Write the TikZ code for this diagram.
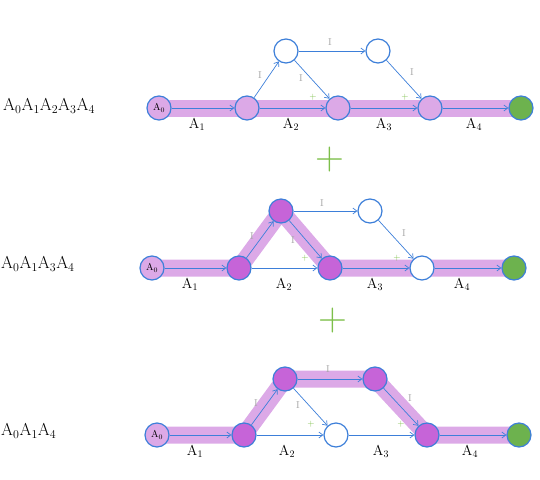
\documentclass[tikz,border=0pt]{standalone}
\usetikzlibrary{arrows.meta}
\definecolor{edgeblue}{HTML}{3D7FD9}
\definecolor{band}{HTML}{DCA9E7}
\definecolor{dark}{HTML}{C664D8}
\definecolor{gnode}{HTML}{6DB24E}
\definecolor{plusg}{HTML}{7DBF4A}
\tikzset{
  x=1pt,y=-1pt,
  vtx/.style={circle,draw=edgeblue,line width=1.2pt,fill=white,minimum size=24pt,inner sep=0pt},
  onband/.style={vtx,fill=band},
  picked/.style={vtx,fill=dark},
  final/.style={vtx,fill=gnode},
  arc/.style={draw=edgeblue,line width=0.7pt,-{Straight Barb[length=4pt,width=6pt]}},
  hl/.style={draw=band,line width=17pt,line join=round},
  ilab/.style={text=gray!70,font=\normalsize},
  alab/.style={font=\Large},
  tick/.style={text=plusg,font=\small},
  rowlab/.style={font=\LARGE,anchor=west,inner sep=1pt},
  bigplus/.style={text=plusg,font=\fontsize{40}{40}\selectfont}
}
\begin{document}
\begin{tikzpicture}
\useasboundingbox (0,0) rectangle (540,479);
% ---------- panel 1 ----------
\node[rowlab] (l1) at (2,106) {A$_0$A$_1$A$_2$A$_3$A$_4$};
\coordinate (p1s) at (152,108);
\coordinate (p1e) at (521,108);
\draw[hl] (p1s) -- (p1e);
\node[onband] (a0) at (159,108) {A$_0$};
\node[onband] (a1) at (247,108) {};
\node[onband] (a2) at (338,108) {};
\node[onband] (a3) at (430,108) {};
\node[final]  (a4) at (521,108) {};
\node[vtx] (b1) at (286,51) {};
\node[vtx] (b2) at (378,51) {};
\draw[arc] (a0) -- (a1);
\draw[arc] (a1) -- (a2);
\draw[arc] (a2) -- (a3);
\draw[arc] (a3) -- (a4);
\draw[arc] (a1) -- (b1);
\draw[arc] (b1) -- (a2);
\draw[arc] (b1) -- (b2);
\draw[arc] (b2) -- (a3);
\node[alab] (ta1) at (197,124) {A$_1$};
\node[alab] (ta2) at (291,124) {A$_2$};
\node[alab] (ta3) at (384,124) {A$_3$};
\node[alab] (ta4) at (474,124) {A$_4$};
\node[ilab] (ti1) at (260,75) {I};
\node[ilab] (ti2) at (301,78) {I};
\node[ilab] (ti3) at (330,42) {I};
\node[ilab] (ti4) at (412,72) {I};
\node[tick] (tk1) at (313,97) {+};
\node[tick] (tk2) at (405,97) {+};
\node[bigplus] (plus1) at (330,160) {+};
% ---------- panel 2 ----------
\node[rowlab] (l2) at (0,264) {A$_0$A$_1$A$_3$A$_4$};
\coordinate (p2s) at (145,268);
\coordinate (p2e) at (514,268);
\draw[hl] (p2s) -- (239,268) -- (281,211) -- (330,268) -- (p2e);
\node[onband] (c0) at (152,268) {A$_0$};
\node[picked] (c1) at (239,268) {};
\node[picked] (c2) at (330,268) {};
\node[vtx]    (c3) at (422,268) {};
\node[final]  (c4) at (514,268) {};
\node[picked] (d1) at (281,211) {};
\node[vtx]    (d2) at (370,211) {};
\draw[arc] (c0) -- (c1);
\draw[arc] (c1) -- (c2);
\draw[arc] (c2) -- (c3);
\draw[arc] (c3) -- (c4);
\draw[arc] (c1) -- (d1);
\draw[arc] (d1) -- (c2);
\draw[arc] (d1) -- (d2);
\draw[arc] (d2) -- (c3);
\node[alab] (tc1) at (190,284) {A$_1$};
\node[alab] (tc2) at (284,284) {A$_2$};
\node[alab] (tc3) at (375,284) {A$_3$};
\node[alab] (tc4) at (462,284) {A$_4$};
\node[ilab] (tj1) at (252,236) {I};
\node[ilab] (tj2) at (293,240) {I};
\node[ilab] (tj3) at (322,203) {I};
\node[ilab] (tj4) at (404,233) {I};
\node[tick] (tk3) at (305,258) {+};
\node[tick] (tk4) at (397,258) {+};
\node[bigplus] (plus2) at (333,321) {+};
% ---------- panel 3 ----------
\node[rowlab] (l3) at (0,431) {A$_0$A$_1$A$_4$};
\coordinate (p3s) at (150,435);
\coordinate (p3e) at (519,435);
\draw[hl] (p3s) -- (244,435) -- (285,379) -- (375,379) -- (427,435) -- (p3e);
\node[onband] (e0) at (157,435) {A$_0$};
\node[picked] (e1) at (244,435) {};
\node[vtx]    (e2) at (336,435) {};
\node[picked] (e3) at (427,435) {};
\node[final]  (e4) at (519,435) {};
\node[picked] (f1) at (285,379) {};
\node[picked] (f2) at (375,379) {};
\draw[arc] (e0) -- (e1);
\draw[arc] (e1) -- (e2);
\draw[arc] (e2) -- (e3);
\draw[arc] (e3) -- (e4);
\draw[arc] (e1) -- (f1);
\draw[arc] (f1) -- (e2);
\draw[arc] (f1) -- (f2);
\draw[arc] (f2) -- (e3);
\node[alab] (te1) at (195,451) {A$_1$};
\node[alab] (te2) at (287,451) {A$_2$};
\node[alab] (te3) at (381,451) {A$_3$};
\node[alab] (te4) at (470,451) {A$_4$};
\node[ilab] (tl1) at (256,403) {I};
\node[ilab] (tl2) at (298,405) {I};
\node[ilab] (tl3) at (328,369) {I};
\node[ilab] (tl4) at (410,398) {I};
\node[tick] (tk5) at (311,424) {+};
\node[tick] (tk6) at (401,424) {+};
\end{tikzpicture}
\end{document}
